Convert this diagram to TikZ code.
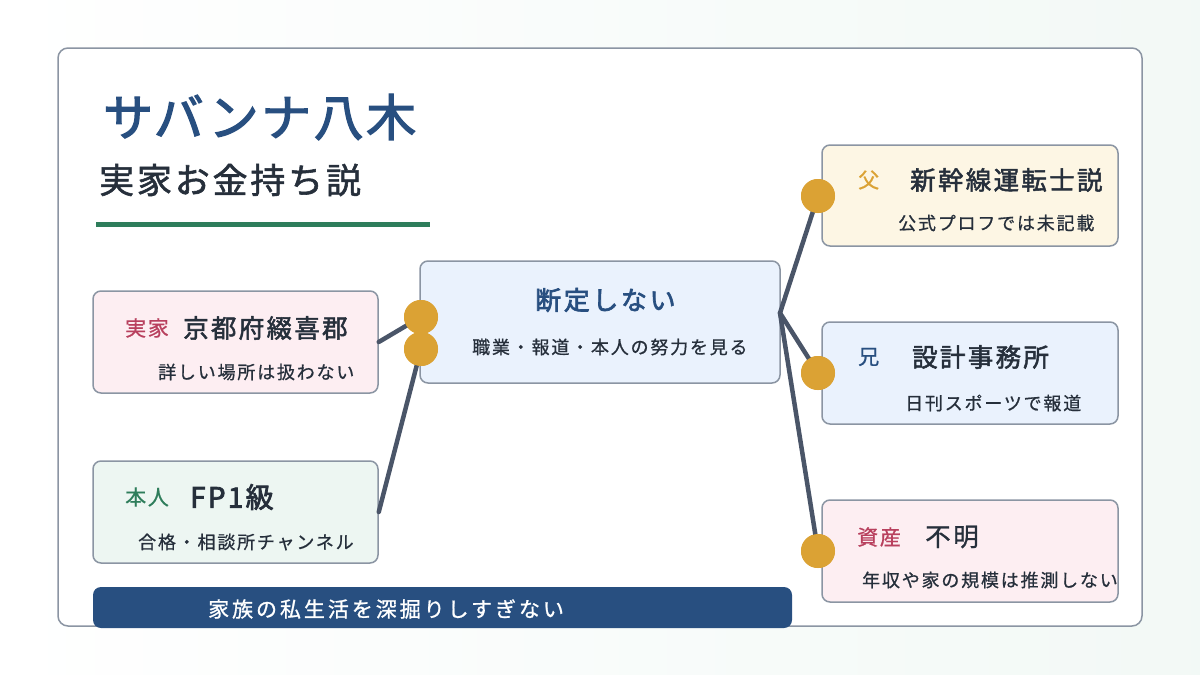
\documentclass[tikz,border=0pt]{standalone}
\usepackage{fontspec}
\setmainfont{Noto Sans CJK JP}
\definecolor{titleblue}{HTML}{284F80}
\definecolor{darktxt}{HTML}{262F3B}
\definecolor{redlab}{HTML}{B8405E}
\definecolor{greenlab}{HTML}{2E7D5B}
\definecolor{goldc}{HTML}{DBA234}
\definecolor{connc}{HTML}{4A5568}
\definecolor{borderc}{HTML}{8B95A3}
\definecolor{pinkf}{HTML}{FDEEF2}
\definecolor{greenf}{HTML}{EDF6F2}
\definecolor{bluef}{HTML}{EAF2FD}
\definecolor{yellowf}{HTML}{FDF6E4}
\newcommand{\fs}[1]{\fontsize{#1}{#1}\selectfont}
\tikzset{
  card/.style={draw=borderc, line width=1.5, rounded corners=8, inner sep=0},
  conn/.style={draw=connc, line width=4.5, line cap=round},
  golddot/.style={circle, fill=goldc, minimum size=34, inner sep=0},
  txt/.style={anchor=west, inner sep=0, text=darktxt},
  subtxt/.style={txt, font=\fs{18}\addfontfeature{LetterSpace=10,FakeBold=0.8}},
  maintxt/.style={txt, font=\fs{25.5}\addfontfeature{LetterSpace=9,FakeBold=2}},
  labtxt/.style={anchor=west, inner sep=0, font=\fs{21}\addfontfeature{LetterSpace=8,FakeBold=0.8}},
}
\begin{document}
\begin{tikzpicture}[x=1pt,y=-1pt]
\shade[left color=white, right color=greenf!70!white] (0,0) rectangle (1200,675);
\useasboundingbox (0,0) rectangle (1200,675);
\node[card, fill=white, rounded corners=10, minimum width=1084, minimum height=578] (frame) at (600,337) {};
% title
\node[anchor=west, inner sep=0, text=titleblue, font=\fs{50}\addfontfeature{LetterSpace=5,FakeBold=2.5}] (title) at (103,117) {サバンナ八木};
\node[anchor=west, inner sep=0, text=darktxt, font=\fs{35}\addfontfeature{LetterSpace=8,FakeBold=1.6}] (subtitle) at (99,180) {実家お金持ち説};
\draw[greenlab, line width=5] (96,224) -- (430,224);
% boxes
\node[card, fill=pinkf, minimum width=285, minimum height=102] (b1) at (235.5,342) {};
\node[card, fill=greenf, minimum width=285, minimum height=102] (b2) at (235.5,512) {};
\node[card, fill=bluef, minimum width=360, minimum height=122] (c) at (600,322) {};
\node[card, fill=yellowf, minimum width=296, minimum height=101] (r1) at (970,195.5) {};
\node[card, fill=bluef, minimum width=296, minimum height=102] (r2) at (970,373) {};
\node[card, fill=pinkf, minimum width=296, minimum height=102] (r3) at (970,551) {};
% dots
\node[golddot] (dL1) at (421,317) {};
\node[golddot] (dL2) at (421,349) {};
\node[golddot] (dR1) at (818,196) {};
\node[golddot] (dR2) at (818,373) {};
\node[golddot] (dR3) at (818,551) {};
\coordinate (jn) at (780,313);
% connectors
\draw[conn] (b1.east) -- (dL1.center);
\draw[conn] (b2.east) -- (dL2.center);
\draw[conn] (jn) -- (dR1.center);
\draw[conn] (jn) -- (dR2.center);
\draw[conn] (jn) -- (dR3.center);
% redraw dots on top
\foreach \d in {dL1,dL2,dR1,dR2,dR3}{\fill[goldc] (\d) circle (17);}
% texts left1
\node[labtxt, text=redlab] (l1a) at (125,328) {実家};
\node[maintxt] (l1b) at (183,328) {京都府綴喜郡};
\node[subtxt] (l1c) at (158,372) {詳しい場所は扱わない};
% left2
\node[labtxt, text=greenlab] (l2a) at (125,497) {本人};
\node[maintxt, font=\fs{28}\addfontfeature{LetterSpace=8,FakeBold=2.8}] (l2b) at (190,497) {FP1級};
\node[subtxt] (l2c) at (138,542) {合格・相談所チャンネル};
% center
\node[maintxt, text=titleblue, font=\fs{26}\addfontfeature{LetterSpace=10,FakeBold=2.5}] (ca) at (535,300) {断定しない};
\node[subtxt] (cb) at (472,347) {職業・報道・本人の努力を見る};
% right1
\node[labtxt, text=goldc] (r1a) at (858,180) {父};
\node[maintxt] (r1b) at (910,180) {新幹線運転士説};
\node[subtxt] (r1c) at (898,223) {公式プロフでは未記載};
% right2
\node[labtxt, text=titleblue] (r2a) at (858,357) {兄};
\node[maintxt] (r2b) at (912,357) {設計事務所};
\node[subtxt] (r2c) at (905,403) {日刊スポーツで報道};
% right3
\node[labtxt, text=redlab] (r3a) at (857,537) {資産};
\node[maintxt, font=\fs{25.5}\addfontfeature{LetterSpace=10,FakeBold=1}] (r3b) at (925,537) {不明};
\node[subtxt] (r3c) at (862,580) {年収や家の規模は推測しない};
% banner
\node[fill=titleblue, rounded corners=8, minimum width=699, minimum height=41, inner sep=0] (ban) at (442.5,607.5) {};
\node[anchor=west, inner sep=0, text=white, font=\fs{21}\addfontfeature{LetterSpace=14,FakeBold=1}] (bant) at (208,609) {家族の私生活を深掘りしすぎない};
\end{tikzpicture}
\end{document}
